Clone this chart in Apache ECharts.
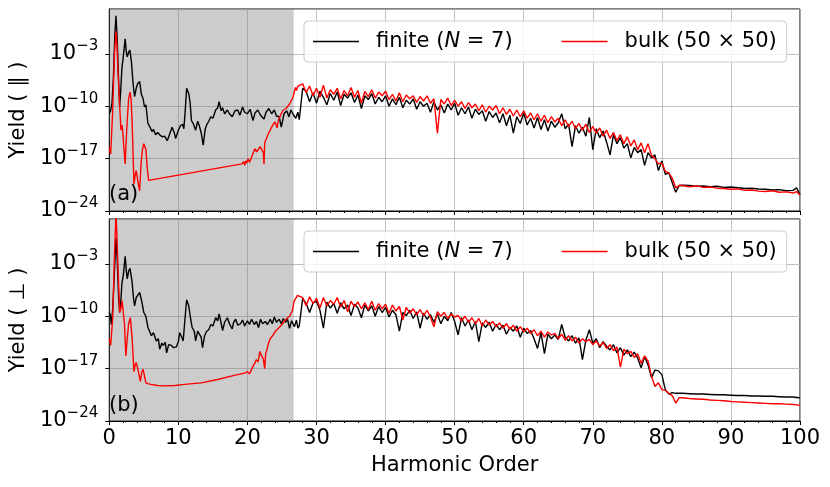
<!DOCTYPE html>
<html><head><meta charset="utf-8">
<script src="https://cdn.jsdelivr.net/npm/echarts@6/dist/echarts.min.js"></script>
<style>html,body{margin:0;padding:0;background:#fff}#c{width:830px;height:487px}</style>
</head><body><div id="c"></div>
<script>
// ---- data: harmonic order (x) and log10(yield) (y) ----
const yTickExponents = [-24, -17, -10, -3];
const xTicks = [0, 10, 20, 30, 40, 50, 60, 70, 80, 90, 100];
const shadedRange = [0, 26.7];

// panel (a) finite, low-harmonic region
const hFinParLow = [0,0.2,0.4,0.6,0.8,0.97,1.15,1.35,1.5,1.65,1.83,2.05,2.3,2.45,2.6,2.8,2.98,3.2,3.45,3.66,3.9,4.1,4.4,4.65,4.9,5.1,5.3,5.6,5.9,6.2,6.4,6.7,7.0,7.4,7.7,8.0,8.4,8.7,9.1,9.4,9.6,10.0,10.3,10.6,10.8,11.0,11.2,11.5,11.7,11.9,12.2,12.5,12.8,13.0,13.3,13.6,13.9,14.1,14.4,14.7,15.0,15.4,15.7,15.9,16.2,16.4,16.7,17.1,17.4,17.8,18.2,18.6,18.9,19.3,19.6,20.0,20.4,20.8,21.1,21.5,21.9,22.4,22.7,23.1,23.5,23.9,24.2,24.6,24.9,25.3,25.7,26.0,26.3,26.7,27.0,27.3];
const finParLow = [-11.0,-10.6,-9.5,-6.0,-0.5, 2.1,-1.0,-6.5,-10.1,-8.0, -4.9,-3.2,-1.0,-2.6,-3.4, -2.8,-2.5,-4.0,-7.0,-8.7, -7.6,-7.0,-6.7,-8.4,-9.0, -10.1,-9.8,-12.3,-12.8,-13.4, -13.1,-13.8,-13.5,-13.9,-14.1, -14.0,-14.6,-13.8,-12.8,-13.5, -14.3,-13.2,-12.6,-12.4,-13.0, -10.5,-7.6,-8.3,-9.5,-11.9, -12.4,-13.2,-12.0,-12.5,-13.5, -15.2,-13.0,-12.5,-12.0,-11.4, -11.6,-10.5,-10.2,-9.4,-10.6, -10.2,-11.0,-10.5,-11.0,-11.4, -10.6,-10.5,-11.2,-10.1,-10.8, -11.0,-10.4,-11.9,-10.9,-10.5, -11.2,-11.7,-10.8,-10.3,-11.0, -10.5,-11.3,-11.4,-12.8,-11.0, -10.6,-11.4,-10.5,-11.2,-11.6, -10.8];

// panel (a) bulk, low-harmonic region
const hBulkParLow = [0,0.2,0.5,0.75,0.97,1.1,1.25,1.5,1.7,1.85,1.96,2.15,2.3,2.45,2.6,2.8,3.0,3.15,3.3,3.45,3.57,3.75,3.9,4.1,4.25,4.4,4.6,4.8,5.0,5.15,5.3,5.5,5.7,19.2,19.45,19.6,19.75,19.9,20.1,20.3,20.6,20.85,21.1,21.35,21.6,21.85,22.1,22.3,22.4,22.5,22.6,22.8,23.0,23.25,23.5,23.75,24.0,24.15,24.3,24.5,24.7,24.9,25.2,25.4,25.6,25.85,26.1,26.35,26.6,26.8,26.95,27.1,27.3];
const bulkParLow = [-15.5,-16.4,-10.5,-3.0,0.0, -1.5,-5.2,-9.9,-13.2,-12.5, -13.5,-16.0,-17.7,-14.5,-11.9, -9.0,-8.1,-9.0,-11.9,-16.5, -20.4,-19.2,-18.6,-19.8,-20.6, -21.3,-17.7,-15.8,-15.0,-15.1, -15.8,-18.3,-19.9, -17.7,-17.4,-17.9,-17.3,-17.6, -17.0,-17.5,-16.8,-16.2,-15.7, -16.1,-15.9,-15.4,-15.5,-16.2, -17.7,-15.0,-14.6,-14.2,-13.7, -13.3,-12.8,-12.4,-12.1,-12.3, -12.9,-11.8,-11.9,-11.0,-10.5, -10.7,-10.3,-10.0,-9.7,-9.9, -8.8,-8.0,-7.5,-7.9,-7.3];

// panel (b) finite, low-harmonic region
const hFinPerpLow = [0,0.15,0.3,0.5,0.75,0.97,1.15,1.35,1.5,1.65,1.83,2.05,2.3,2.45,2.6,2.8,3.0,3.3,3.5,3.66,3.9,4.1,4.4,4.7,5.0,5.3,5.6,6.1,6.4,6.8,7.1,7.3,7.6,7.8,8.1,8.3,8.6,9.0,9.3,9.7,10.0,10.2,10.5,10.7,10.9,11.2,11.5,11.8,12.0,12.3,12.5,12.8,13.0,13.3,13.5,13.8,14.1,14.4,14.7,15.0,15.4,15.7,15.9,16.1,16.4,16.7,17.1,17.4,17.8,18.0,18.3,18.6,19.0,19.3,19.6,20.0,20.3,20.6,21.0,21.3,21.6,21.9,22.2,22.6,22.9,23.3,23.6,23.9,24.2,24.6,24.9,25.2,25.5,25.8,26.1,26.4,26.8,27.1,27.3];
const finPerpLow = [-9.5,-9.8,-11.1,-9.0,-4.0, 0.5,-2.5,-7.5,-9.5,-8.3, -5.6,-4.4,-2.0,-3.8,-5.0, -4.0,-3.6,-5.4,-7.5,-8.6, -7.5,-7.2,-6.8,-8.0,-9.5, -10.0,-11.5,-12.6,-12.2,-13.3, -13.0,-14.4,-13.6,-13.9,-13.5, -14.9,-13.8,-13.9,-14.2,-14.1, -13.4,-12.2,-12.8,-13.3,-11.0, -7.8,-8.6,-10.5,-11.5,-12.0, -13.3,-12.0,-12.0,-12.8,-14.2, -12.6,-12.0,-11.8,-11.1,-11.3, -10.2,-10.6,-9.7,-10.5,-11.9, -10.8,-10.2,-11.0,-11.7,-10.8, -10.4,-11.2,-11.0,-10.5,-11.3, -10.6,-11.1,-10.4,-11.1,-10.7, -11.5,-10.4,-11.0,-10.7,-11.1, -10.4,-11.0,-10.1,-10.8,-10.4, -11.0,-10.3,-10.8,-10.4,-11.6, -10.6,-11.4,-10.5,-11.6];

// panel (b) bulk, low-harmonic region
const hBulkPerpLow = [0,0.2,0.5,0.75,0.97,1.1,1.25,1.5,1.7,1.85,2.0,2.2,2.4,2.6,2.8,3.05,3.3,3.57,3.75,3.9,4.1,4.3,4.5,4.7,4.9,5.1,5.3,5.6,6.0,7.0,8.0,9.5,10.9,13.3,15.7,18.1,19.6,19.8,20.0,20.3,20.5,20.8,21.1,21.3,21.55,21.8,22.05,22.3,22.5,22.65,22.8,23.05,23.3,23.55,23.8,24.05,24.3,24.6,25.0,25.4,25.8,26.1,26.5,26.75,27.0,27.25];
const bulkPerpLow = [-13.0,-13.9,-10.2,-2.0,3.8, 1.0,-3.1,-9.5,-8.9,-7.9, -7.8,-11.0,-15.3,-13.0,-11.0, -10.2,-12.8,-17.4,-16.5,-16.2, -16.9,-17.8,-18.7,-17.5,-17.1, -17.2,-18.9,-19.0,-19.1,-19.25, -19.3,-19.25,-19.1,-18.9,-18.45, -17.9,-17.6,-17.8,-17.4,-17.7, -17.3,-16.7,-16.2,-15.8,-16.1, -14.7,-15.3,-15.7,-17.0,-14.9, -14.6,-13.6,-13.0,-12.8,-12.4, -12.0,-11.8,-11.5,-11.1,-10.6, -10.2,-10.0,-9.3,-8.0,-7.8, -7.2];

// plateau region, shared harmonic grid
const hPlateau = [27.5,28,28.5,29,29.5,30,30.5,31,31.5,32, 32.5,33,33.5,34,34.5,35,35.5,36,36.5,37, 37.5,38,38.5,39,39.5,40,40.5,41,41.5,42, 42.5,43,43.5,44,44.5,45,45.5,46,46.5,47, 47.5,48,48.5,49,49.5,50,50.5,51,51.5,52, 52.5,53,53.5,54,54.5,55,55.5,56,56.5,57, 57.5,58,58.5,59,59.5,60,60.5,61,61.5,62, 62.5,63,63.5,64,64.5,65,65.5,66,66.5,67, 67.5,68,68.5,69,69.5,70,70.5,71,71.5,72, 72.5,73,73.5,74,74.5,75,75.5,76,76.5,77, 77.5,78,78.5,79,79.5,80,80.5,81,81.5,82];
const finParPlateau = [-11.8,-7.6,-8.0,-9.4,-8.2,-9.6,-8.0,-8.8,-9.8,-8.3, -9.2,-8.1,-9.9,-8.4,-8.9,-8.2,-9.5,-8.5,-10.3,-8.6, -9.1,-8.3,-9.7,-8.8,-9.4,-8.6,-10.0,-9.0,-9.8,-8.8, -10.2,-9.2,-9.7,-9.0,-10.4,-9.4,-10.0,-9.6,-10.8,-9.4, -10.5,-9.8,-10.9,-9.7,-10.5,-9.6,-11.2,-10.2,-11.0,-10.1, -11.6,-10.4,-11.1,-10.6,-12.0,-10.7,-11.5,-10.9,-12.2,-11.0, -12.6,-11.2,-13.6,-11.4,-12.3,-10.9,-12.5,-11.6,-12.9,-11.5, -13.1,-11.8,-13.3,-12.0,-12.8,-12.2,-11.0,-13.0,-12.4,-15.4, -12.6,-13.6,-12.8,-14.0,-11.5,-15.8,-13.0,-14.2,-13.3,-14.8, -16.5,-13.8,-15.0,-14.2,-15.6,-15.0,-16.9,-15.5,-16.2,-15.8, -17.9,-16.2,-16.9,-16.5,-18.6,-17.3,-19.1,-18.9,-20.2,-21.5];
const bulkParPlateau = [-7.5,-7.0,-8.2,-7.3,-8.6,-7.6,-8.8,-7.2,-8.9,-7.8, -8.4,-7.6,-9.0,-7.9,-8.6,-7.5,-8.8,-7.9,-9.6,-8.0, -8.7,-7.8,-8.9,-8.1,-8.6,-8.0,-9.1,-8.4,-9.3,-8.2, -9.4,-8.5,-9.0,-8.6,-9.5,-8.7,-9.3,-8.6,-9.6,-9.0, -13.6,-9.1,-9.7,-8.9,-9.9,-9.2,-10.0,-9.4,-10.3,-9.5, -10.2,-9.7,-10.6,-9.8,-10.8,-10.0,-10.5,-9.9,-11.0,-10.2, -11.1,-10.4,-11.3,-10.5,-11.4,-10.6,-11.6,-10.9,-11.8,-11.0, -12.0,-11.2,-12.2,-11.4,-12.1,-11.6,-12.6,-11.8,-12.7,-12.0, -13.0,-12.3,-13.2,-12.4,-13.5,-12.7,-13.6,-12.9,-14.0,-13.2, -14.3,-13.5,-14.6,-13.8,-15.0,-14.1,-15.3,-14.5,-15.8,-14.9, -16.2,-15.0,-16.6,-17.0,-17.7,-17.6,-18.7,-18.9,-19.6,-20.9];
const finPerpPlateau = [-11.3,-7.6,-8.3,-9.5,-8.2,-8.0,-9.2,-11.6,-8.1,-8.9, -8.3,-9.6,-8.2,-9.0,-8.5,-9.9,-8.4,-8.9,-10.2,-8.5, -9.3,-8.6,-10.0,-8.7,-9.5,-8.8,-10.1,-9.2,-9.8,-12.0, -9.5,-9.9,-9.2,-10.3,-9.4,-11.6,-9.6,-10.4,-9.8,-10.8, -9.7,-11.0,-10.0,-10.6,-9.5,-10.7,-12.5,-10.2,-11.3,-10.5, -11.8,-10.7,-13.4,-10.9,-11.5,-10.8,-12.0,-11.1,-11.8,-11.2, -12.4,-11.5,-12.0,-11.3,-12.8,-11.6,-12.3,-11.9,-13.0,-14.3, -12.2,-15.0,-12.4,-13.0,-12.5,-13.1,-11.1,-12.8,-13.3,-12.6, -13.6,-12.9,-15.8,-13.2,-11.8,-13.6,-13.0,-14.2,-13.4,-14.0, -14.5,-13.8,-14.9,-14.2,-15.2,-14.5,-15.4,-14.8,-15.6,-16.9, -15.4,-16.5,-18.2,-17.2,-17.3,-17.8,-19.8,-20.4,-20.2,-20.3];
const bulkPerpPlateau = [-7.0,-7.5,-8.6,-7.4,-8.3,-7.6,-8.9,-7.5,-8.6,-7.9, -8.4,-7.5,-8.8,-7.9,-9.4,-8.0,-8.7,-8.1,-9.0,-8.2, -9.1,-8.0,-9.2,-8.3,-9.0,-8.4,-9.6,-8.5,-9.3,-8.7, -10.5,-8.8,-9.6,-9.0,-9.8,-9.1,-9.9,-9.2,-10.1,-11.4, -9.4,-10.0,-9.5,-10.3,-9.7,-10.1,-9.9,-10.6,-10.0,-10.8, -10.2,-11.0,-10.3,-11.3,-10.5,-11.2,-10.7,-11.4,-10.9,-11.6, -11.0,-11.7,-11.2,-12.0,-11.4,-12.1,-11.6,-12.3,-11.8,-12.6, -12.0,-12.8,-12.1,-12.5,-12.3,-13.0,-12.4,-13.2,-12.6,-13.3, -12.8,-13.6,-13.0,-13.4,-13.1,-13.8,-13.3,-14.0,-13.5,-14.3, -13.8,-14.6,-14.1,-16.8,-14.4,-15.0,-14.7,-15.5,-15.0,-16.3, -15.3,-16.0,-18.0,-19.4,-18.9,-19.8,-19.9,-20.3,-20.6,-21.6];

// tail beyond the cutoff
const hTail = [82.5,83,84,85,86,87,88,89,90,91,92,93,94,95,96,97,98,99,99.5,100];
const finParTail = [-20.6,-20.55,-20.6,-20.7,-20.65,-20.75,-20.7,-20.85,-20.8,-20.9,-21.0,-20.95,-21.05,-21.1,-21.2,-21.15,-21.3,-21.25,-20.9,-21.8];
const bulkParTail = [-20.6,-20.6,-20.75,-20.65,-20.85,-20.8,-20.95,-21.0,-21.1,-21.05,-21.25,-21.2,-21.35,-21.4,-21.3,-21.5,-21.45,-21.6,-21.4,-21.9];
const finPerpTail = [-20.3,-20.3,-20.35,-20.4,-20.4,-20.45,-20.5,-20.5,-20.55,-20.6,-20.6,-20.65,-20.65,-20.7,-20.7,-20.75,-20.8,-20.8,-20.85,-20.9];
const bulkPerpTail = [-20.9,-20.9,-21.0,-21.05,-21.1,-21.2,-21.25,-21.3,-21.4,-21.45,-21.5,-21.55,-21.6,-21.65,-21.7,-21.7,-21.75,-21.8,-21.85,-21.9];

// ---- build ----
function pairs(hs, vs) { return hs.map((h, i) => [h, vs[i]]); }
function series3(hl, vl, vp, vt) { return pairs(hl, vl).concat(pairs(hPlateau, vp), pairs(hTail, vt)); }
const finPar = series3(hFinParLow, finParLow, finParPlateau, finParTail);
const bulkPar = series3(hBulkParLow, bulkParLow, bulkParPlateau, bulkParTail);
const finPerp = series3(hFinPerpLow, finPerpLow, finPerpPlateau, finPerpTail);
const bulkPerp = series3(hBulkPerpLow, bulkPerpLow, bulkPerpPlateau, bulkPerpTail);

const FONT = 'DejaVu Sans';
const FS = 21;
const GRID_COLOR = '#b0b0b0';
const tops = [9, 219];

function expLabel(v) {
  if (yTickExponents.indexOf(v) < 0) return '';
  return '{b|10}{s|' + (v < 0 ? '\u2212' : '') + Math.abs(v) + '}';
}
function yAxisFor(gi, name) {
  return {
    gridIndex: gi, type: 'value', min: yTickExponents[0], max: 3, interval: 7,
    name: name, nameLocation: 'middle', nameGap: 80, nameRotate: 90,
    nameTextStyle: { fontFamily: FONT, fontSize: FS, color: '#000' },
    axisLine: { show: true, lineStyle: { color: '#000', width: 1 } },
    axisTick: { show: true, length: 4, lineStyle: { color: '#000' } },
    axisLabel: { margin: 11, showMaxLabel: false, formatter: expLabel,
      rich: { b: { fontFamily: FONT, fontSize: FS, color: '#000', lineHeight: 30 },
              s: { fontFamily: FONT, fontSize: 15, color: '#000', verticalAlign: 'top', lineHeight: 15 } } },
    splitLine: { show: true, lineStyle: { color: GRID_COLOR, width: 0.8 } }
  };
}
function xAxisFor(gi, labels) {
  return {
    gridIndex: gi, type: 'value', min: xTicks[0], max: xTicks[xTicks.length - 1], interval: 10,
    name: labels ? 'Harmonic Order' : '', nameLocation: 'middle', nameGap: 34,
    nameTextStyle: { fontFamily: FONT, fontSize: FS, color: '#000' },
    axisLine: { show: true, onZero: false, lineStyle: { color: '#000' } },
    axisTick: { show: true, length: 4, lineStyle: { color: '#000' } },
    minorTick: { show: true, splitNumber: 5, length: 2, lineStyle: { color: '#000' } },
    axisLabel: { show: labels, margin: 7, fontFamily: FONT, fontSize: FS, color: '#000' },
    splitLine: { show: true, lineStyle: { color: GRID_COLOR, width: 0.8 } }
  };
}
function legendFor(top) {
  return {
    top: top, left: 304, orient: 'horizontal', data: ['finite', 'bulk'],
    icon: 'rect', itemWidth: 46, itemHeight: 1.5, itemGap: 49, selectedMode: false,
    padding: [10, 10, 10, 9], backgroundColor: 'rgba(255,255,255,0.8)',
    borderColor: '#cccccc', borderWidth: 1, borderRadius: 4,
    formatter: function (n) {
      return n === 'finite' ? '{sp| }{t|finite (}{i|N}{t| = 7)}' : '{sp| }{t|bulk (50 \u00d7 50)}';
    },
    textStyle: { fontFamily: FONT, fontSize: FS, color: '#000',
      rich: { sp: { width: 12 }, t: { fontFamily: FONT, fontSize: FS, color: '#000' },
              i: { fontFamily: FONT, fontSize: FS, color: '#000', fontStyle: 'italic' } } }
  };
}
function lineSeries(name, gi, data, color, z, shade) {
  const s = { type: 'line', name: name, xAxisIndex: gi, yAxisIndex: gi, data: data,
    symbol: 'none', showSymbol: false, animation: false, z: z,
    lineStyle: { color: color, width: 1.4 }, itemStyle: { color: color } };
  if (shade) s.markArea = { silent: true, itemStyle: { color: 'rgba(128,128,128,0.4)' },
    data: [[{ xAxis: shadedRange[0] }, { xAxis: shadedRange[1] }]] };
  return s;
}

const chart = echarts.init(document.getElementById('c'), null, { renderer: 'canvas' });
chart.setOption({
  animation: false,
  backgroundColor: '#fff',
  grid: tops.map(t => ({ left: 108, top: t, width: 692, height: 202, show: true, borderColor: '#000', borderWidth: 1, backgroundColor: 'transparent' })),
  xAxis: [xAxisFor(0, false), xAxisFor(1, true)],
  yAxis: [yAxisFor(0, 'Yield ( \u2225 )'), yAxisFor(1, 'Yield ( \u22a5 )')],
  legend: [legendFor(21), legendFor(231)],
  graphic: [
    { type: 'text', left: 109, top: 184, z: 100, style: { text: '(a)', font: '21px "DejaVu Sans"', fill: '#000' } },
    { type: 'text', left: 109, top: 395, z: 100, style: { text: '(b)', font: '21px "DejaVu Sans"', fill: '#000' } }
  ],
  series: [
    lineSeries('finite', 0, finPar, '#000000', 2, true),
    lineSeries('bulk', 0, bulkPar, '#ff0000', 3, false),
    lineSeries('finite', 1, finPerp, '#000000', 2, true),
    lineSeries('bulk', 1, bulkPerp, '#ff0000', 3, false)
  ]
});
</script></body></html>
